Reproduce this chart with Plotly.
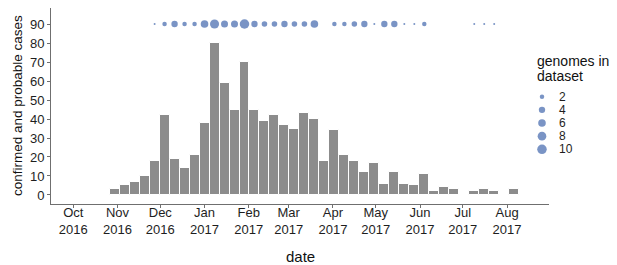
import plotly.graph_objects as go
import pandas as pd

# ---------------- data ----------------
first_week = "2016-10-30"
cases = [3, 5, 7, 10, 18, 42, 19, 14, 21, 38,
         80, 59, 45, 70, 45, 39, 42, 37, 35, 43,
         40, 18, 34, 21, 18, 12, 17, 6, 12, 6,
         5, 11, 2, 4, 3, 0, 2, 3, 2, 0, 3]
genomes = [0, 0, 0, 0, 1, 2, 4, 2, 2, 6,
           9, 5, 5, 10, 4, 3, 3, 4, 3, 3,
           6, 0, 2, 2, 3, 4, 1, 4, 4, 1,
           1, 2, 0, 0, 0, 0, 1, 1, 1, 0, 0]
month_ticks = ["2016-10-01", "2016-11-01", "2016-12-01", "2017-01-01",
               "2017-02-01", "2017-03-01", "2017-04-01", "2017-05-01",
               "2017-06-01", "2017-07-01", "2017-08-01"]
month_labels = ["Oct<br>2016", "Nov<br>2016", "Dec<br>2016", "Jan<br>2017",
                "Feb<br>2017", "Mar<br>2017", "Apr<br>2017", "May<br>2017",
                "Jun<br>2017", "Jul<br>2017", "Aug<br>2017"]
y_ticks = [0, 10, 20, 30, 40, 50, 60, 70, 80, 90]
legend_values = [2, 4, 6, 8, 10]
dot_row = 90

weeks = pd.date_range(first_week, periods=len(cases), freq="7D")

FONT = "Liberation Sans, Arial, Helvetica, sans-serif"
BLUE = "#4166AC"
GREY = "#8c8c8c"
AX = "#6f6f6f"
TXT = "#1e1e1e"


def dot_size(v, vmin=1, vmax=10, dmin=2.0, dmax=9.5):
    return dmin + (dmax - dmin) * ((v - vmin) / (vmax - vmin)) ** 0.5


dot_x = [w for w, g in zip(weeks, genomes) if g > 0]
dot_v = [g for g in genomes if g > 0]

fig = go.Figure()
fig.add_trace(go.Bar(
    x=weeks, y=cases, width=7 * 24 * 3600 * 1000,
    marker=dict(color=GREY, line=dict(color="white", width=1)),
    showlegend=False, hoverinfo="x+y"))
fig.add_trace(go.Scatter(
    x=dot_x, y=[dot_row] * len(dot_x), mode="markers",
    marker=dict(color=BLUE, size=[dot_size(v) for v in dot_v], line=dict(width=0)),
    showlegend=False))
# size legend drawn on auxiliary axes
fig.add_trace(go.Scatter(
    x=[0.074] * len(legend_values), y=legend_values, mode="markers",
    marker=dict(color=BLUE, size=[dot_size(v) for v in legend_values], line=dict(width=0)),
    xaxis="x2", yaxis="y2", showlegend=False, hoverinfo="skip"))

PW = 566
annotations = [
    dict(text="confirmed and probable cases", xref="paper", yref="paper",
         x=(17 - 51) / PW, y=1 - (106 - 8) / 196, textangle=-90, showarrow=False,
         xanchor="center", yanchor="middle", borderpad=0,
         font=dict(size=13.5, color="#111", family=FONT)),
    dict(text="date", xref="paper", yref="paper",
         x=(300 - 51) / PW, y=-0.2704, showarrow=False,
         xanchor="center", yanchor="middle", font=dict(size=15, color="#111", family=FONT)),
    dict(text="genomes in", xref="x2", yref="y2", x=0, y=-3.48, showarrow=False,
         xanchor="left", yanchor="middle", borderpad=0,
         font=dict(size=14, color="#111", family=FONT)),
    dict(text="dataset", xref="x2", yref="y2", x=0, y=-1.15, showarrow=False,
         xanchor="left", yanchor="middle", borderpad=0,
         font=dict(size=14, color="#111", family=FONT)),
]
for v in legend_values:
    annotations.append(dict(text=str(v), xref="x2", yref="y2", x=0.27, y=v,
                            showarrow=False, xanchor="left", yanchor="middle",
                            borderpad=0,
                            font=dict(size=12, color=TXT, family=FONT)))

# the page body adds an 8px offset; the figure size/margins compensate for it
fig.update_layout(
    width=609, height=257,
    margin=dict(l=43, r=0, t=0, b=61),
    paper_bgcolor="white", plot_bgcolor="white",
    font=dict(family=FONT, color=TXT, size=13),
    bargap=0, showlegend=False,
    xaxis=dict(type="date", domain=[0, 498 / PW],
               range=["2016-09-15 09:36", "2017-08-30 09:36"],
               showline=True, linecolor=AX, linewidth=1,
               ticks="outside", ticklen=3, tickcolor=AX, tickwidth=1,
               tickvals=month_ticks, ticktext=month_labels,
               ticklabelstandoff=-7,
               tickfont=dict(size=13, color=TXT), showgrid=False, zeroline=False,
               anchor="y"),
    yaxis=dict(range=[-4.74, 98.42], domain=[0, 1], tickvals=y_ticks,
               showline=True, linecolor=AX, linewidth=1,
               ticks="outside", ticklen=3, tickcolor=AX, tickwidth=1,
               tickfont=dict(size=13, color=TXT), showgrid=False, zeroline=False,
               anchor="x"),
    xaxis2=dict(domain=[485 / PW, 1], range=[0, 1], visible=False, anchor="y2"),
    yaxis2=dict(domain=[0, 1], range=[18.32, -11.49], visible=False, anchor="x2"),
    annotations=annotations,
)

fig.write_html("out.html")
